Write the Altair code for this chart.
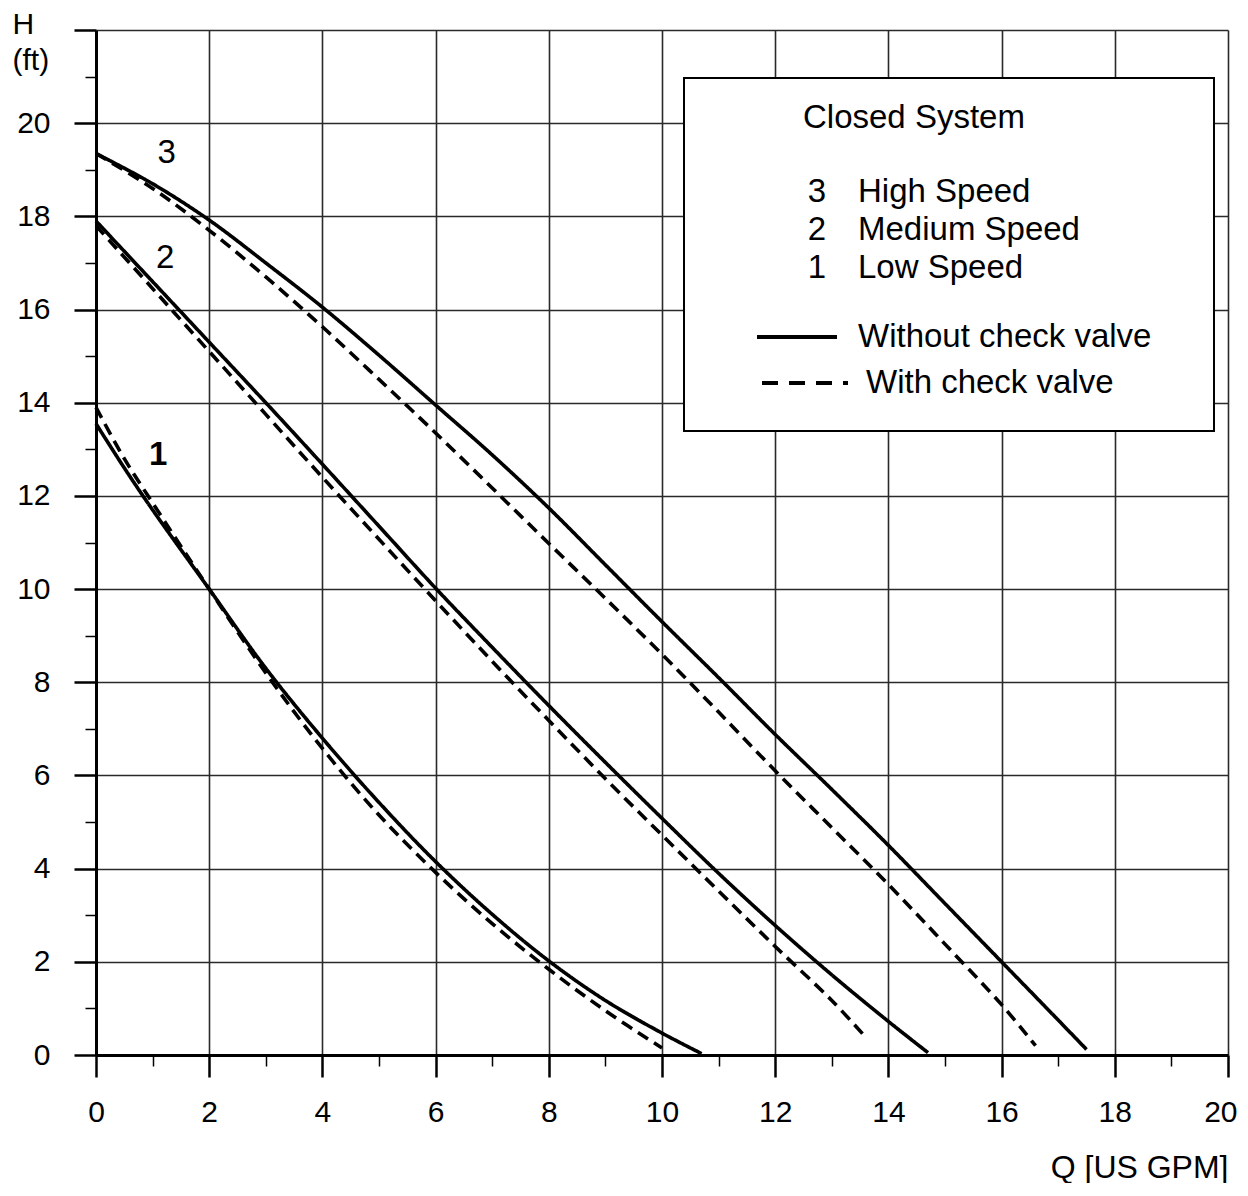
import altair as alt
import pandas as pd

# ---- curve data (Q in US GPM, H in ft) ----
q3_solid = [0, 1, 2, 3, 4, 5, 6, 7, 8, 9, 10, 11, 12, 13, 14, 15, 16, 17, 17.5]
h3_solid = [19.35, 18.7, 17.92, 17.0, 16.05, 15.02, 13.95, 12.88, 11.74, 10.52, 9.3, 8.1, 6.88, 5.7, 4.5, 3.25, 2.0, 0.75, 0.12]
q3_dash = [0, 1, 2, 3, 4, 5, 6, 7, 8, 9, 10, 11, 12, 13, 14, 15, 16, 16.6]
h3_dash = [19.35, 18.6, 17.7, 16.7, 15.63, 14.5, 13.35, 12.17, 10.98, 9.8, 8.6, 7.36, 6.1, 4.88, 3.66, 2.38, 1.08, 0.2]

q2_solid = [0, 1, 2, 3, 4, 5, 6, 7, 8, 9, 10, 11, 12, 13, 14, 14.7]
h2_solid = [17.9, 16.6, 15.3, 14.0, 12.68, 11.35, 10.02, 8.75, 7.5, 6.28, 5.08, 3.9, 2.78, 1.72, 0.72, 0.05]
q2_dash = [0, 1, 2, 3, 4, 5, 6, 7, 8, 9, 10, 11, 12, 13, 13.6]
h2_dash = [17.8, 16.45, 15.1, 13.75, 12.4, 11.07, 9.75, 8.45, 7.18, 5.93, 4.72, 3.52, 2.33, 1.17, 0.38]

q1_solid = [0, 0.5, 1, 2, 3, 4, 5, 6, 7, 8, 9, 10, 10.7]
h1_solid = [13.55, 12.6, 11.7, 10.0, 8.3, 6.8, 5.42, 4.15, 3.02, 2.02, 1.17, 0.47, 0.03]
q1_dash = [0, 0.5, 1, 2, 3, 4, 5, 6, 7, 8, 9, 10]
h1_dash = [13.9, 12.8, 11.85, 10.0, 8.2, 6.58, 5.15, 3.92, 2.82, 1.84, 0.95, 0.15]

# curve number labels
label_text = ["3", "2", "1"]
label_q = [1.25, 1.22, 1.1]
label_h = [19.35, 17.1, 12.88]

# legend texts
legend_title = "Closed System"
legend_nums = ["3", "2", "1"]
legend_names = ["High Speed", "Medium Speed", "Low Speed"]
legend_solid = "Without check valve"
legend_dash = "With check valve"

x_title = "Q [US GPM]"
y_title = ["H", "(ft)"]

rows = []
for curve, typ, qs, hs in [
    ("3", "Without", q3_solid, h3_solid),
    ("3", "With", q3_dash, h3_dash),
    ("2", "Without", q2_solid, h2_solid),
    ("2", "With", q2_dash, h2_dash),
    ("1", "Without", q1_solid, h1_solid),
    ("1", "With", q1_dash, h1_dash),
]:
    for q, h in zip(qs, hs):
        rows.append({"Q": q, "H": h, "curve": curve, "type": typ, "key": curve + typ})
df = pd.DataFrame(rows)

W, H = 1132, 1025
FONT = "Liberation Sans"
even = "datum.value % 2 === 0"

x_axis = alt.Axis(
    values=[i * 0.5 for i in range(41)],
    labelExpr=f"{even} ? format(datum.value, 'd') : ''",
    labelOverlap=False,
    tickSize={"condition": {"test": even, "value": 22}, "value": 11},
    tickWidth={"condition": {"test": even, "value": 2.5}, "value": 1.5},
    gridOpacity={"condition": {"test": even, "value": 1}, "value": 0},
    labelAlign={"condition": {"test": "datum.value === 20", "value": "right"}, "value": "center"},
    labelOffset={"condition": {"test": "datum.value === 20", "value": 9}, "value": 0},
    grid=True, gridColor="#2a2a2a", gridWidth=1.6,
    domainColor="black", domainWidth=3, tickColor="black",
    labelFont=FONT, labelFontSize=30, labelColor="black", labelPadding=20,
    title=x_title, titleFont=FONT, titleFontSize=32, titleFontWeight="normal",
    titleColor="black", titleX=W, titleY=122, titleAlign="right",
    titleBaseline="alphabetic", titleAnchor="end",
)

y_axis = alt.Axis(
    values=[i * 0.5 for i in range(45)],
    labelExpr=f"({even} && datum.value < 22) ? format(datum.value, 'd') : ''",
    labelOverlap=False,
    tickSize={"condition": {"test": even, "value": 22}, "value": 11},
    tickWidth={"condition": {"test": even, "value": 2.5}, "value": 1.5},
    gridOpacity={"condition": {"test": even, "value": 1}, "value": 0},
    grid=True, gridColor="#2a2a2a", gridWidth=1.6,
    domainColor="black", domainWidth=3, tickColor="black",
    labelFont=FONT, labelFontSize=30, labelColor="black", labelPadding=24,
    title=y_title, titleFont=FONT, titleFontSize=30, titleFontWeight="normal",
    titleColor="black", titleAngle=0, titleAlign="left", titleX=-84, titleY=3,
    titleBaseline="alphabetic", titleLineHeight=36,
)

curves = alt.Chart(df).mark_line(color="black", strokeWidth=3.6, interpolate="catmull-rom").encode(
    x=alt.X("Q:Q", scale=alt.Scale(domain=[0, 20], nice=False, zero=True), axis=x_axis),
    y=alt.Y("H:Q", scale=alt.Scale(domain=[0, 22], nice=False, zero=True), axis=y_axis),
    strokeDash=alt.StrokeDash("type:N", scale=alt.Scale(domain=["Without", "With"], range=[[1, 0], [12, 7]]), legend=None),
    detail="key:N",
)

lab_df = pd.DataFrame({"t": label_text, "Q": label_q, "H": label_h})
curve_labels = alt.Chart(lab_df[lab_df.t != "1"]).mark_text(font=FONT, fontSize=33, color="black").encode(
    x="Q:Q", y="H:Q", text="t:N"
)
curve_label1 = alt.Chart(lab_df[lab_df.t == "1"]).mark_text(font=FONT, fontSize=33, fontWeight="bold", color="black").encode(
    x="Q:Q", y="H:Q", text="t:N"
)

one = pd.DataFrame({"a": [0]})
box = alt.Chart(one).mark_rect(fill="white", stroke="black", strokeWidth=2).encode(
    x=alt.value(588), x2=alt.value(1118), y=alt.value(48), y2=alt.value(401)
)

layers = [curves, curve_labels, curve_label1, box]

def txt(s, x, y, align="left"):
    return alt.Chart(one).mark_text(text=s, font=FONT, fontSize=33, color="black", align=align, baseline="middle").encode(
        x=alt.value(x), y=alt.value(y)
    )

layers.append(txt(legend_title, 707, 88))
for i, (n, name) in enumerate(zip(legend_nums, legend_names)):
    yy = 162 + i * 38
    layers.append(txt(n, 721, yy, align="center"))
    layers.append(txt(name, 762, yy))
layers.append(txt(legend_solid, 762, 307))
layers.append(txt(legend_dash, 770, 353))

solid_sample = alt.Chart(one).mark_rule(color="black", strokeWidth=4).encode(
    x=alt.value(661), x2=alt.value(741), y=alt.value(307)
)
dash_sample = alt.Chart(one).mark_rule(color="black", strokeWidth=4, strokeDash=[16, 11]).encode(
    x=alt.value(666), x2=alt.value(752), y=alt.value(353)
)
layers += [solid_sample, dash_sample]

chart = alt.layer(*layers).properties(
    width=W, height=H,
    autosize=alt.AutoSizeParams(type="none"),
    padding={"left": 88, "top": 22, "right": 12, "bottom": 128},
    background="white",
).configure_view(strokeWidth=0)

chart.save("out.html", embed_options={"renderer": "svg", "actions": False})
